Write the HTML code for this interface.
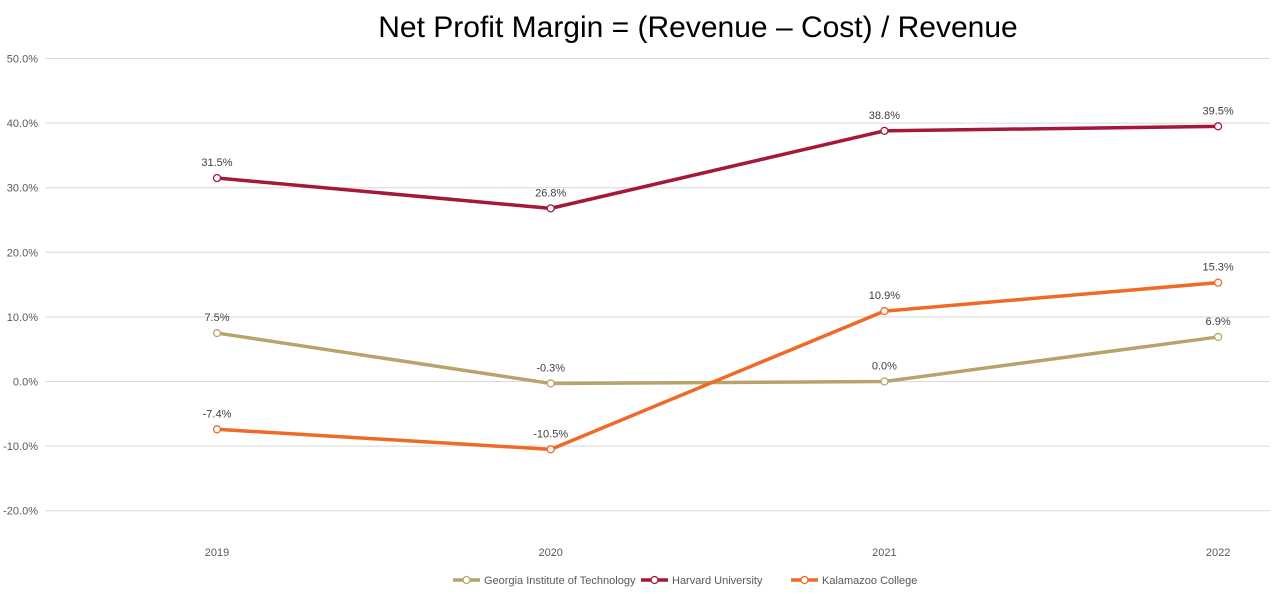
<!DOCTYPE html>
<html><head><meta charset="utf-8"><style>
body{margin:0;background:#fff;font-family:"Liberation Sans",sans-serif;}
svg text{font-family:"Liberation Sans",sans-serif;}
</style></head><body>
<svg id="chart" width="1274" height="597" viewBox="0 0 1274 597">
<text x="698" y="37" text-anchor="middle" font-size="30" fill="#000">Net Profit Margin = (Revenue – Cost) / Revenue</text>
<g id="grid"></g><g id="xlabels"></g><g id="series"></g><g id="legend"></g>
</svg>
<script>
const categories = ["2019","2020","2021","2022"];
const seriesNames = ["Georgia Institute of Technology","Harvard University","Kalamazoo College"];
const georgiaValues = [7.5, -0.3, 0.0, 6.9];
const harvardValues = [31.5, 26.8, 38.8, 39.5];
const kalamazooValues = [-7.4, -10.5, 10.9, 15.3];
const yTicks = [50,40,30,20,10,0,-10,-20];
const colors = ["#B8A46B","#A6183A","#EE6A26"];
const ns="http://www.w3.org/2000/svg";
function y(v){return 381.5 - v*6.46;}
function x(i){return 217 + i*333.7;}
function mk(tag,attrs,parent){const e=document.createElementNS(ns,tag);for(const k in attrs)e.setAttribute(k,attrs[k]);parent.appendChild(e);return e;}
const grid=document.getElementById('grid');
yTicks.forEach(t=>{
  const l=mk('line',{x1:45,x2:1270,y1:y(t),y2:y(t),stroke:'#d9d9d9','stroke-width':1},grid);
  
  
  const tx=mk('text',{x:38,y:y(t)+4,'text-anchor':'end','font-size':11,fill:'#595959'},grid);
  tx.textContent=t.toFixed(1)+'%';
  
  
});
const xl=document.getElementById('xlabels');
categories.forEach((c,i)=>{
  const t=mk('text',{x:x(i),y:556,'text-anchor':'middle','font-size':11,fill:'#595959'},xl);
  t.textContent=c;
  
  
});
const sg=document.getElementById('series');
[georgiaValues,harvardValues,kalamazooValues].forEach((vals,s)=>{
  const p=mk('polyline',{points:vals.map((v,i)=>x(i)+','+y(v)).join(' '),fill:'none',stroke:colors[s],'stroke-width':3.5,'stroke-linejoin':'round'},sg);
  
  
  vals.forEach((v,i)=>{
    const c=mk('circle',{cx:x(i),cy:y(v),r:3.5,fill:'#fff',stroke:colors[s],'stroke-width':1.3},sg);
    
    
    const t=mk('text',{x:x(i),y:y(v)-12,'text-anchor':'middle','font-size':11,fill:'#404040'},sg);
    t.textContent=v.toFixed(1)+'%';
    
    
  });
});
const lg=document.getElementById('legend');
const lx=[453,641,791];
seriesNames.forEach((n,s)=>{
  const g=mk('g',{},lg);
  
  
  mk('line',{x1:lx[s],x2:lx[s]+27,y1:580,y2:580,stroke:colors[s],'stroke-width':3.5},g);
  mk('circle',{cx:lx[s]+13.5,cy:580,r:3.5,fill:'#fff',stroke:colors[s],'stroke-width':1.3},g);
  const t=mk('text',{x:lx[s]+31,y:584,'font-size':11,fill:'#595959'},g);
  t.textContent=n;
});
</script>
</body></html>
